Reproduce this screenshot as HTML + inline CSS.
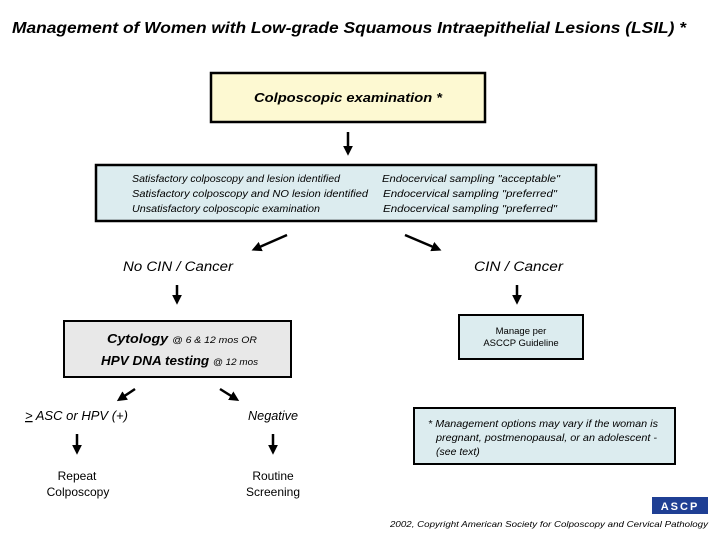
<!DOCTYPE html>
<html><head><meta charset="utf-8"><style>
html,body{margin:0;padding:0;background:#fff;}
svg{display:block;font-family:"Liberation Sans",Arial,sans-serif;}
</style></head><body>
<svg width="720" height="540" viewBox="0 0 720 540" xmlns="http://www.w3.org/2000/svg">
<defs>
<marker id="ah" markerWidth="4" markerHeight="4" refX="2.5" refY="2" orient="auto" markerUnits="strokeWidth"><path d="M0,0 L4,2 L0,4 z" fill="#000"/></marker>
</defs>
<text x="12" y="33" font-size="16" font-weight="bold" font-style="italic" textLength="674" lengthAdjust="spacingAndGlyphs">Management of Women with Low-grade Squamous Intraepithelial Lesions (LSIL) *</text>

<rect x="211" y="73" width="274" height="49" fill="#fdf9d2" stroke="#000" stroke-width="2.5"/>
<text x="254" y="102" font-size="12.5" font-weight="bold" font-style="italic" textLength="188" lengthAdjust="spacingAndGlyphs">Colposcopic examination *</text>

<line x1="348" y1="132" x2="348" y2="152" stroke="#000" stroke-width="2.5" marker-end="url(#ah)"/>

<rect x="96" y="165" width="500" height="56" fill="#dcecef" stroke="#000" stroke-width="2.5"/>
<g font-size="10.5" font-style="italic">
<text x="132" y="182" textLength="208" lengthAdjust="spacingAndGlyphs">Satisfactory colposcopy and lesion identified</text>
<text x="132" y="197" textLength="236" lengthAdjust="spacingAndGlyphs">Satisfactory colposcopy and NO lesion identified</text>
<text x="132" y="212" textLength="188" lengthAdjust="spacingAndGlyphs">Unsatisfactory colposcopic examination</text>
<text x="382" y="182" textLength="178" lengthAdjust="spacingAndGlyphs">Endocervical sampling "acceptable"</text>
<text x="383" y="197" textLength="174" lengthAdjust="spacingAndGlyphs">Endocervical sampling "preferred"</text>
<text x="383" y="212" textLength="174" lengthAdjust="spacingAndGlyphs">Endocervical sampling "preferred"</text>
</g>

<line x1="287" y1="235" x2="255" y2="249" stroke="#000" stroke-width="2.5" marker-end="url(#ah)"/>
<line x1="405" y1="235" x2="438" y2="249" stroke="#000" stroke-width="2.5" marker-end="url(#ah)"/>

<text x="123" y="271" font-size="13.5" font-style="italic" textLength="110" lengthAdjust="spacingAndGlyphs">No CIN / Cancer</text>
<text x="474" y="271" font-size="13.5" font-style="italic" textLength="89" lengthAdjust="spacingAndGlyphs">CIN / Cancer</text>

<line x1="177" y1="285" x2="177" y2="301" stroke="#000" stroke-width="2.5" marker-end="url(#ah)"/>
<line x1="517" y1="285" x2="517" y2="301" stroke="#000" stroke-width="2.5" marker-end="url(#ah)"/>

<rect x="64" y="321" width="227" height="56" fill="#e8e8e8" stroke="#000" stroke-width="2"/>
<text x="107" y="343" font-size="13" font-weight="bold" font-style="italic" textLength="150" lengthAdjust="spacingAndGlyphs">Cytology <tspan font-size="9.5" font-weight="normal">@ 6 &amp; 12 mos OR</tspan></text>
<text x="101" y="365" font-size="13" font-weight="bold" font-style="italic" textLength="157" lengthAdjust="spacingAndGlyphs">HPV DNA testing <tspan font-size="9.5" font-weight="normal">@ 12 mos</tspan></text>

<rect x="459" y="315" width="124" height="44" fill="#dcecef" stroke="#000" stroke-width="2"/>
<text x="521" y="334" font-size="9.5" text-anchor="middle">Manage per</text>
<text x="521" y="346" font-size="9.5" text-anchor="middle">ASCCP Guideline</text>

<line x1="135" y1="389" x2="120" y2="399" stroke="#000" stroke-width="2.5" marker-end="url(#ah)"/>
<line x1="220" y1="389" x2="236" y2="399" stroke="#000" stroke-width="2.5" marker-end="url(#ah)"/>

<text x="25" y="420" font-size="12.5" font-style="italic" textLength="103" lengthAdjust="spacingAndGlyphs"><tspan text-decoration="underline">&gt;</tspan> ASC or HPV (+)</text>
<text x="248" y="420" font-size="12.5" font-style="italic" textLength="50" lengthAdjust="spacingAndGlyphs">Negative</text>

<line x1="77" y1="434" x2="77" y2="451" stroke="#000" stroke-width="2.5" marker-end="url(#ah)"/>
<line x1="273" y1="434" x2="273" y2="451" stroke="#000" stroke-width="2.5" marker-end="url(#ah)"/>

<text x="77" y="480" font-size="12" text-anchor="middle">Repeat</text>
<text x="78" y="496" font-size="12" text-anchor="middle">Colposcopy</text>
<text x="273" y="480" font-size="12" text-anchor="middle">Routine</text>
<text x="273" y="496" font-size="12" text-anchor="middle">Screening</text>

<rect x="414" y="408" width="261" height="56" fill="#dcecef" stroke="#000" stroke-width="2"/>
<g font-size="10.5" font-style="italic">
<text x="428" y="427" textLength="230" lengthAdjust="spacingAndGlyphs">* Management options may vary if the woman is</text>
<text x="436" y="441" textLength="221" lengthAdjust="spacingAndGlyphs">pregnant, postmenopausal, or an adolescent -</text>
<text x="436" y="455">(see text)</text>
</g>

<rect x="652" y="497" width="56" height="17" fill="#1f3f94"/>
<text x="680" y="510" font-size="11" fill="#fff" text-anchor="middle" font-weight="bold" letter-spacing="2">ASCP</text>

<text x="390" y="527" font-size="8.5" font-style="italic" textLength="318" lengthAdjust="spacingAndGlyphs">2002, Copyright American Society for Colposcopy and Cervical Pathology</text>
</svg>
</body></html>
